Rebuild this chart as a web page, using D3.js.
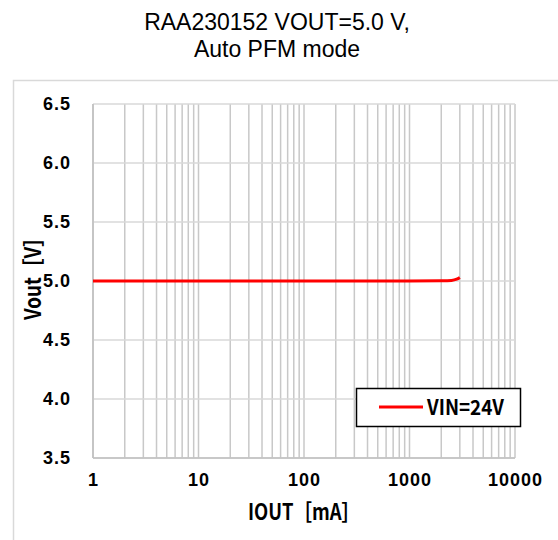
<!DOCTYPE html>
<html>
<head>
<meta charset="utf-8">
<script src="https://cdn.jsdelivr.net/npm/d3@7"></script>
<style>
  body { margin: 0; background: #fff; }
  svg { display: block; }
</style>
</head>
<body>
<div id="chart"></div>
<script>
// data
const iout = [1, 2, 5, 10, 20, 50, 100, 200, 500, 1000, 2000, 2500, 2800, 3000];
const vout = [5.0, 5.0, 5.0, 5.0, 5.0, 5.0, 5.0, 5.0, 5.0, 5.0, 5.002, 5.005, 5.015, 5.03];
const seriesName = "VIN=24V";
const xTicks = [1, 10, 100, 1000, 10000];
const yTicks = [3.5, 4.0, 4.5, 5.0, 5.5, 6.0, 6.5];

const W = 558, H = 540;
const margin = { top: 104, right: 43, bottom: 82, left: 93 };
const width = W - margin.left - margin.right;
const height = H - margin.top - margin.bottom;

const gothic = "Noto Sans CJK JP, sans-serif";
const arial = "Liberation Sans, Arial, sans-serif";

const svg = d3.select("#chart").append("svg")
    .attr("width", W)
    .attr("height", H);

// outer chart frame (right and bottom run off the page)
svg.append("rect")
    .attr("x", 13.5).attr("y", 80.5)
    .attr("width", W + 10).attr("height", H)
    .attr("fill", "none")
    .attr("stroke", "#d9d9d9")
    .attr("stroke-width", 1.5);

// title
const title = svg.append("text")
    .attr("text-anchor", "middle")
    .style("font-family", arial)
    .style("font-size", "23px")
    .attr("fill", "#000");
title.append("tspan").attr("x", 277).attr("y", 30).text("RAA230152 VOUT=5.0 V,");
title.append("tspan").attr("x", 277).attr("y", 57).text("Auto PFM mode");

const g = svg.append("g")
    .attr("transform", "translate(" + margin.left + "," + margin.top + ")");

const x = d3.scaleLog().domain([1, 10000]).range([0, width]);
const y = d3.scaleLinear().domain([3.5, 6.5]).range([height, 0]);

// vertical grid (majors + minors)
const minor = [];
for (let e = 0; e < 4; e++) {
    for (let k = 1; k <= 10; k++) minor.push(k * Math.pow(10, e));
}
g.append("g")
    .selectAll("line")
    .data(Array.from(new Set(minor)))
    .enter().append("line")
    .attr("x1", d => x(d)).attr("x2", d => x(d))
    .attr("y1", 0).attr("y2", height)
    .attr("stroke", "#c8c8c8")
    .attr("stroke-width", 1.5);

// horizontal grid
g.append("g")
    .selectAll("line")
    .data(yTicks)
    .enter().append("line")
    .attr("x1", 0).attr("x2", width)
    .attr("y1", d => y(d)).attr("y2", d => y(d))
    .attr("stroke", "#d9d9d9")
    .attr("stroke-width", 1.5);

// axis lines
g.append("line")
    .attr("x1", 0).attr("x2", 0).attr("y1", 0).attr("y2", height)
    .attr("stroke", "#bfbfbf").attr("stroke-width", 1.5);
g.append("line")
    .attr("x1", 0).attr("x2", width).attr("y1", height).attr("y2", height)
    .attr("stroke", "#bfbfbf").attr("stroke-width", 1.5);

// axes (labels only)
const xAxis = g.append("g")
    .attr("transform", "translate(0," + height + ")")
    .call(d3.axisBottom(x).tickValues(xTicks).tickFormat(d3.format("d")).tickSize(0).tickPadding(15));
const yAxis = g.append("g")
    .call(d3.axisLeft(y).tickValues(yTicks).tickFormat(d3.format(".1f")).tickSize(0).tickPadding(22));
[xAxis, yAxis].forEach(a => {
    a.select(".domain").remove();
    a.selectAll("text")
        .style("font-family", arial)
        .style("font-weight", "bold")
        .style("font-size", "18px")
        .style("letter-spacing", "1px")
        .attr("fill", "#000");
});

// series
const line = d3.line()
    .x((d, i) => x(iout[i]))
    .y(d => y(d))
    .curve(d3.curveMonotoneX);
g.append("path")
    .datum(vout)
    .attr("d", line)
    .attr("fill", "none")
    .attr("stroke", "#ff0000")
    .attr("stroke-width", 3);

// axis titles
svg.append("text")
    .attr("x", 248).attr("y", 520)
    .attr("textLength", 112)
    .attr("lengthAdjust", "spacingAndGlyphs")
    .style("font-family", gothic)
    .style("font-weight", "bold")
    .style("font-size", "22px")
    .text("IOUT［mA］");
svg.append("text")
    .attr("transform", "translate(41,320) rotate(-90)")
    .attr("textLength", 92)
    .attr("lengthAdjust", "spacingAndGlyphs")
    .style("font-family", gothic)
    .style("font-weight", "bold")
    .style("font-size", "22px")
    .text("Vout［V］");

// legend
const lg = svg.append("g").attr("transform", "translate(356,388)");
lg.append("rect")
    .attr("x", 0.5).attr("y", 0.5)
    .attr("width", 164).attr("height", 38)
    .attr("fill", "#fff")
    .attr("stroke", "#000")
    .attr("stroke-width", 1.5);
lg.append("line")
    .attr("x1", 23).attr("x2", 67).attr("y1", 19).attr("y2", 19)
    .attr("stroke", "#ff0000").attr("stroke-width", 3);
lg.append("text")
    .attr("x", 71).attr("y", 27)
    .attr("textLength", 77)
    .attr("lengthAdjust", "spacingAndGlyphs")
    .style("font-family", gothic)
    .style("font-weight", "bold")
    .style("font-size", "21px")
    .text(seriesName);
</script>
</body>
</html>
